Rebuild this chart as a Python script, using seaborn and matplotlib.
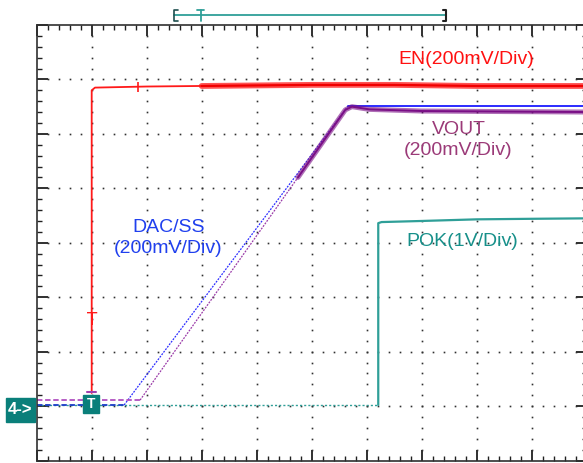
import matplotlib
matplotlib.use("Agg")
import matplotlib.pyplot as plt
from matplotlib.patches import Rectangle
from matplotlib.ticker import MultipleLocator
import seaborn as sns
import numpy as np
import pandas as pd

# scope traces in divisions (x: time div, y: vertical div)
en_t = [1.0, 1.0, 1.06, 2.0, 3.0, 4.0, 5.0, 6.5, 8.0, 10.2]
en_v = [1.24, 6.80, 6.85, 6.87, 6.88, 6.89, 6.90, 6.90, 6.88, 6.88]

pok_t = [0.0, 6.21, 6.21, 6.27, 7.0, 8.0, 9.0, 10.2]
pok_v = [1.02, 1.02, 4.36, 4.38, 4.40, 4.43, 4.44, 4.45]

dac_t = [0.0, 1.59, 5.66, 6.5, 8.0, 10.2]
dac_v = [1.02, 1.02, 6.51, 6.51, 6.51, 6.51]

vout_t = [0.0, 1.88, 4.75, 5.61, 5.73, 6.05, 7.0, 8.5, 10.2]
vout_v = [1.11, 1.11, 5.20, 6.44, 6.50, 6.45, 6.42, 6.41, 6.40]

labels = {
    "en": "EN(200mV/Div)",
    "vout": "VOUT\n(200mV/Div)",
    "dac": "DAC/SS\n(200mV/Div)",
    "pok": "POK(1V/Div)",
}

# horizontal cursor bar above the screen
cursor_left, cursor_right, trigger_x = 2.50, 7.45, 2.98

RED = "#ff1a1a"
PURPLE = "#7a0f86"
BLUE = "#2b2bff"
TEAL = "#2f9f98"
TEAL_DARK = "#0a7f7a"


def trace(ax, t, v, i0, i1, **kw):
    seg = pd.DataFrame({"t": t[i0:i1 + 1], "v": v[i0:i1 + 1]})
    sns.lineplot(data=seg, x="t", y="v", ax=ax, estimator=None, sort=False,
                 legend=False, **kw)


sns.set_style("white")
plt.rcParams["font.family"] = ["Liberation Sans", "DejaVu Sans"]

fig = plt.figure(figsize=(5.83, 4.63), dpi=100)
ax = fig.add_axes([36.7 / 583, 2.5 / 463, 550 / 583, 435.5 / 463])
ax.set_xlim(0, 10)
ax.set_ylim(0, 8)

# graticule: dotted grid lines made of points every 0.2 div
fine = np.arange(0.2, 10.0, 0.2)
fine_y = np.arange(0.2, 8.0, 0.2)
for gx in range(1, 10):
    ax.plot(np.full_like(fine_y, gx), fine_y, ls="none", marker="s",
            ms=1.2, mew=0, color="#303030", zorder=1)
for gy in range(1, 8):
    ax.plot(fine, np.full_like(fine, gy), ls="none", marker="s",
            ms=1.2, mew=0, color="#303030", zorder=1)

ax.xaxis.set_major_locator(MultipleLocator(1))
ax.yaxis.set_major_locator(MultipleLocator(1))
ax.xaxis.set_minor_locator(MultipleLocator(0.2))
ax.yaxis.set_minor_locator(MultipleLocator(0.2))
ax.tick_params(which="both", direction="in", top=True, right=True,
               bottom=True, left=True, labelbottom=False, labelleft=False,
               color="#202020")
ax.tick_params(which="major", length=8, width=1.3)
ax.tick_params(which="minor", length=3.6, width=1.0)
for s in ax.spines.values():
    s.set_color("#303030")
    s.set_linewidth(1.2)
ax.set_xlabel("")
ax.set_ylabel("")

# POK
trace(ax, pok_t, pok_v, 0, 1, color=TEAL, lw=1.0, linestyle=(0, (1.5, 1.5)))
trace(ax, pok_t, pok_v, 1, len(pok_t) - 1, color=TEAL, lw=1.6)

# DAC/SS
trace(ax, dac_t, dac_v, 0, 1, color="#1a3cc8", lw=1.3, linestyle=(0, (3, 1.5)))
trace(ax, dac_t, dac_v, 1, 2, color=BLUE, lw=0.9, linestyle=(0, (1.5, 1)))
trace(ax, dac_t, dac_v, 2, len(dac_t) - 1, color=BLUE, lw=1.4)

# VOUT
trace(ax, vout_t, vout_v, 0, 1, color="#b050c0", lw=1.3, linestyle=(0, (3, 1.5)))
trace(ax, vout_t, vout_v, 1, 2, color="#9a3aa8", lw=0.9, linestyle=(0, (1.5, 1)))
trace(ax, vout_t, vout_v, 2, len(vout_t) - 1, color=PURPLE, lw=3.6, alpha=0.6)
trace(ax, vout_t, vout_v, 2, len(vout_t) - 1, color=PURPLE, lw=1.4)

# EN
trace(ax, en_t, en_v, 0, 4, color=RED, lw=1.3)
trace(ax, en_t, en_v, 4, len(en_t) - 1, color=RED, lw=4.2, alpha=0.75)
trace(ax, en_t, en_v, 4, len(en_t) - 1, color="#f00000", lw=1.6)
ax.plot(en_t[3] - 0.16, en_v[3], marker="|", ms=7, color=RED, mew=1.2)
ax.text(en_t[0], 2.58, "T", color=RED, fontsize=12, ha="center", va="center",
        family=["DejaVu Sans"])

# channel labels
ax.text(7.81, 7.36, labels["en"], color="#ff1010", fontsize=14,
        ha="center", va="center")
ax.text(7.67, 5.88, labels["vout"], color="#9b3a78", fontsize=14,
        ha="center", va="center", linespacing=1.3)
ax.text(2.39, 4.09, labels["dac"], color="#2040ee", fontsize=14,
        ha="center", va="center", linespacing=1.3)
ax.text(7.74, 4.03, labels["pok"], color="#17908a", fontsize=14,
        ha="center", va="center")

# ground marker for channel 4 and trigger marker
ax.add_patch(Rectangle((-0.56, 0.71), 0.53, 0.44, color=TEAL_DARK,
                       clip_on=False, zorder=5))
ax.text(-0.295, 0.93, "4->", color="white", fontsize=12, fontweight="bold",
        ha="center", va="center", clip_on=False, zorder=6)
ax.add_patch(Rectangle((0.85, 0.88), 0.28, 0.32, color=TEAL_DARK,
                       clip_on=False, zorder=5))
ax.text(0.99, 1.04, "T", color="white", fontsize=10, fontweight="bold",
        ha="center", va="center", zorder=6)
ax.plot([0.92, 1.08], [1.25, 1.25], color="#a040b0", lw=1.5, zorder=6)

# cursor bar on top
ybar = 8.18
ax.plot([cursor_left, cursor_right], [ybar, ybar], color=TEAL, lw=1.3,
        clip_on=False)
ax.plot([cursor_left + 0.06, cursor_left, cursor_left, cursor_left + 0.06],
        [8.28, 8.28, 8.07, 8.07], color="#1f4f4f", lw=1.2, clip_on=False)
ax.plot([cursor_right - 0.06, cursor_right, cursor_right, cursor_right - 0.06],
        [8.28, 8.28, 8.07, 8.07], color="#202020", lw=1.5, clip_on=False)
ax.plot([trigger_x - 0.06, trigger_x + 0.06], [8.28, 8.28], color=TEAL,
        lw=1.3, clip_on=False)
ax.plot([trigger_x, trigger_x], [8.28, 8.07], color=TEAL, lw=1.3,
        clip_on=False)

fig.savefig("out.png", dpi=100)
